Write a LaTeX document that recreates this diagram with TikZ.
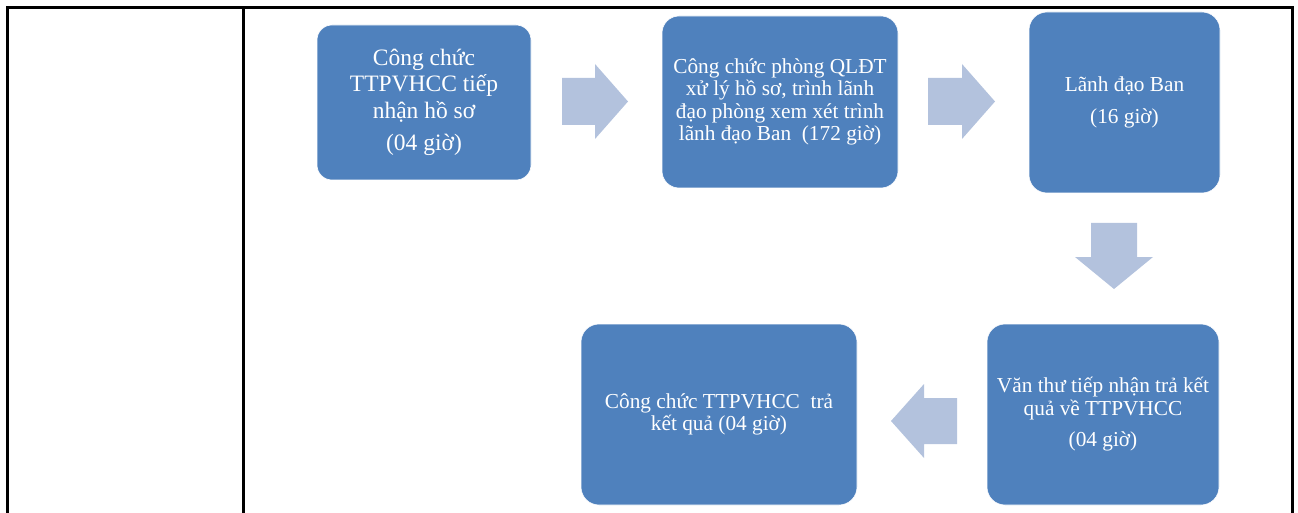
\documentclass[tikz,border=0pt]{standalone}
\usepackage{fontspec}
\setmainfont{Liberation Serif}
\definecolor{boxblue}{HTML}{4F81BD}
\definecolor{arrowblue}{HTML}{B3C2DD}
\begin{document}
\begin{tikzpicture}[x=1pt,y=-1pt,
  frame/.style={line width=3pt,black},
  box/.style={fill=boxblue,draw=white,line width=0.6pt,text=white,align=center,inner sep=0pt,
    font=\fontsize{21.3}{22.5}\selectfont},
  blockarrow/.style={fill=arrowblue,draw=none}]
\useasboundingbox (0,0) rectangle (1298,513);
% table frame
\coordinate (tl) at (7.5,7.5);
\coordinate (tr) at (1292,7.5);
\coordinate (bl) at (7.5,513);
\coordinate (br) at (1292,513);
\coordinate (mt) at (243.5,7.5);
\coordinate (mb) at (243.5,513);
\draw[frame] (bl) -- (tl) -- (tr) -- (br);
\draw[frame] (mt) -- (mb);
% boxes
\node[box,minimum width=214pt,minimum height=155pt,rounded corners=15pt,
  font=\fontsize{23.5}{26.5}\selectfont] (b1) at (424,102.5)
  {Công chức\\TTPVHCC tiếp\\nhận hồ sơ\\[6pt](04 giờ)};
\node[box,minimum width=236pt,minimum height=172pt,rounded corners=17pt] (b2) at (780,102)
  {Công chức phòng QLĐT\\xử lý hồ sơ, trình lãnh\\đạo phòng xem xét trình\\lãnh đạo Ban~ (172 giờ)};
\node[box,minimum width=191pt,minimum height=181pt,rounded corners=18pt] (b3) at (1124.5,102.5)
  {Lãnh đạo Ban\\[9pt](16 giờ)};
\node[box,minimum width=232pt,minimum height=181pt,rounded corners=18pt] (b4) at (1103,414.5)
  {Văn thư tiếp nhận trả kết\\quả về TTPVHCC\\[9pt](04 giờ)};
\node[box,minimum width=276pt,minimum height=181pt,rounded corners=18pt] (b5) at (719,414.5)
  {Công chức TTPVHCC~ trả\\kết quả (04 giờ)};
% block arrows
\fill[blockarrow] (562,78) -- (595,78) -- (595,64) -- (628,101.5) -- (595,139) -- (595,125) -- (562,125) -- cycle;
\fill[blockarrow] (928,78) -- (962,78) -- (962,64) -- (995,101.5) -- (962,139) -- (962,125) -- (928,125) -- cycle;
\fill[blockarrow] (1091,223) -- (1137,223) -- (1137,257) -- (1153,257) -- (1114,289) -- (1075,257) -- (1091,257) -- cycle;
\fill[blockarrow] (957,398) -- (924,398) -- (924,384) -- (891,421) -- (924,458) -- (924,444) -- (957,444) -- cycle;
\end{tikzpicture}
\end{document}
